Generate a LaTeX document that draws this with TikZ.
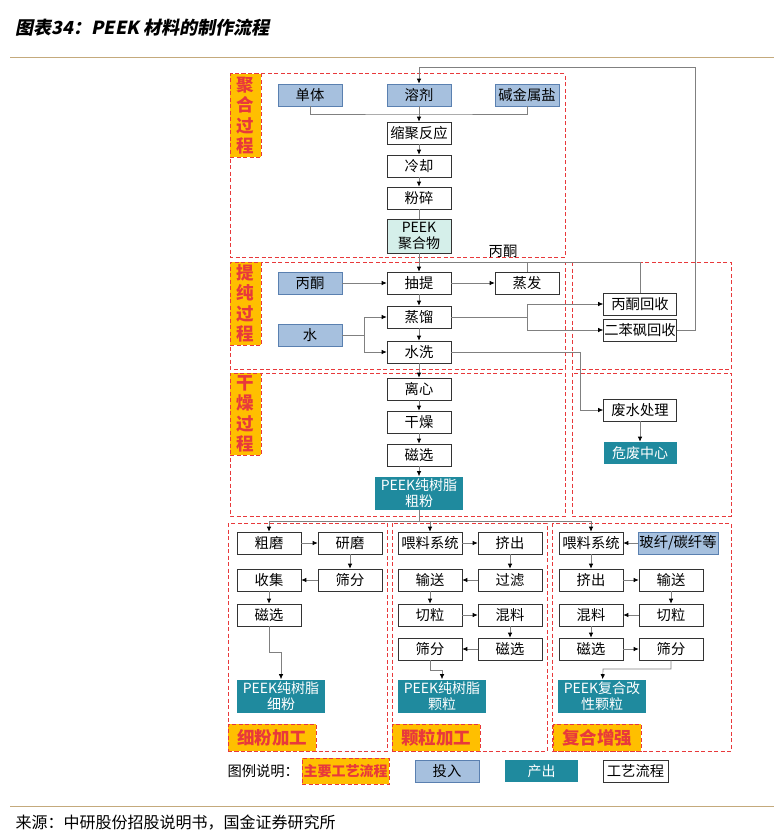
\documentclass[tikz,border=0pt]{standalone}
\usepackage{fontspec}
\setmainfont{Noto Sans CJK SC}
\usepackage{tikz}
\usetikzlibrary{positioning}
\usetikzlibrary{arrows.meta}
\usetikzlibrary{calc}
\definecolor{inblue}{HTML}{A6C0DE}
\definecolor{inline}{HTML}{5A80B0}
\definecolor{outteal}{HTML}{1F8A9E}
\definecolor{polymint}{HTML}{D5EFEA}
\definecolor{tagorange}{HTML}{FFBF00}
\definecolor{tagred}{HTML}{E8393B}
\definecolor{linegray}{HTML}{808080}
\definecolor{rulecol}{HTML}{C4AA7C}
\newcommand{\boxfont}{\fontsize{14.3}{16}\selectfont}
\newcommand{\tagfont}{\fontsize{17.5}{20.5}\selectfont\bfseries}

\begin{document}
\begin{tikzpicture}[x=1pt,y=-1pt]
\tikzset{proc/.style={rectangle,minimum width=64pt,minimum height=22pt,inner sep=0pt,draw=black!80,line width=0.6pt,fill=white,font=\boxfont}}
\tikzset{inbox/.style={proc,draw=inline,fill=inblue}}
\tikzset{outbox/.style={proc,draw=none,fill=outteal,text=white,align=center,font=\fontsize{14}{16.5}\selectfont}}
\tikzset{polybox/.style={proc,fill=polymint,align=center,minimum height=34pt,font=\fontsize{14}{16.5}\selectfont}}
\tikzset{stage/.style={draw=tagred,line width=1pt,dash pattern=on 4pt off 2.5pt}}
\tikzset{tag/.style={stage,fill=tagorange,text=tagred,inner sep=0pt,align=center,font=\tagfont}}
\tikzset{line/.style={draw=linegray,line width=0.7pt}}
\tikzset{arr/.style={line,-{Latex[length=5pt,width=4.5pt,color=black]}}}
\useasboundingbox (0,0) rectangle (774,840);

\node[anchor=west,font=\fontsize{18}{21}\selectfont\bfseries] (title) at (12,28) {\addfontfeature{FakeSlant=0.2}图表34：PEEK 材料的制作流程};
\draw[rulecol,line width=0.8pt] (10,57) -- (774,57);
\draw[rulecol,line width=0.8pt] (10,806) -- (774,806);
\node[anchor=west,font=\fontsize{16}{18}\selectfont] (src) at (12,823) {来源：中研股份招股说明书，国金证券研究所};

\draw[stage] (230,74) rectangle (565,257);
\draw[stage] (230,262) rectangle (565,369);
\draw[stage] (572,262) rectangle (731,369);
\draw[stage] (230,373) rectangle (565,516);
\draw[stage] (572,373) rectangle (731,516);
\draw[stage] (228,523) rectangle (387,751);
\draw[stage] (392,523) rectangle (547,751);
\draw[stage] (552,523) rectangle (731,751);

\node[tag,minimum width=31pt,minimum height=83pt] (tagjh) at (245.5,115.5) {聚\\合\\过\\程};
\node[tag,minimum width=31pt,minimum height=83pt] (tagtc) at (245.5,303.5) {提\\纯\\过\\程};
\node[tag,minimum width=31pt,minimum height=82pt] (taggz) at (245.5,414) {干\\燥\\过\\程};
\node[tag,minimum width=88pt,minimum height=27pt] (tagxf) at (272,737.5) {细粉加工};
\node[tag,minimum width=88pt,minimum height=27pt] (tagkl) at (436,737.5) {颗粒加工};
\node[tag,minimum width=88pt,minimum height=27pt] (tagfh) at (597,737.5) {复合增强};

\node[inbox] (monomer) at (310,95) {单体};
\node[inbox] (solvent) at (419,95) {溶剂};
\node[inbox] (alkali) at (527,95) {碱金属盐};
\node[proc] (poly) at (419,133) {缩聚反应};
\node[proc] (cool) at (419,166) {冷却};
\node[proc] (crush) at (419,198) {粉碎};
\node[polybox] (peek) at (419,236) {PEEK\\聚合物};

\node[inbox] (acetone) at (310,283) {丙酮};
\node[proc] (extract) at (419,283) {抽提};
\node[proc] (evap) at (527,283) {蒸发};
\node[proc] (distil) at (419,317) {蒸馏};
\node[inbox] (water) at (310,335) {水};
\node[proc] (wash) at (419,352) {水洗};
\node[proc,minimum width=73pt] (acrec) at (640,304) {丙酮回收};
\node[proc,minimum width=73pt] (dpsrec) at (640,330) {二苯砜回收};
\node[proc] (centri) at (419,389) {离心};
\node[proc] (dry) at (419,422) {干燥};
\node[proc] (magsep) at (419,455) {磁选};
\node[outbox,minimum width=88pt,minimum height=33pt] (coarse) at (419,493) {PEEK纯树脂\\粗粉};
\node[proc,minimum width=73pt] (wwt) at (640,410) {废水处理};
\node[outbox,minimum width=73pt] (hazard) at (640,453) {危废中心};
\node[font=\boxfont] (aclabel) at (503,251) {丙酮};

\node[proc] (fgrind) at (269,543) {粗磨};
\node[proc] (fmill) at (350,543) {研磨};
\node[proc] (fsieve) at (350,580) {筛分};
\node[proc] (fcollect) at (269,580) {收集};
\node[proc] (fmag) at (269,615) {磁选};
\node[outbox,minimum width=88pt,minimum height=33pt] (fine) at (281,696) {PEEK纯树脂\\细粉};

\node[proc] (gfeed) at (430,543) {喂料系统};
\node[proc] (gext) at (510,543) {挤出};
\node[proc] (gfilter) at (510,580) {过滤};
\node[proc] (gconv) at (430,580) {输送};
\node[proc] (gcut) at (430,615) {切粒};
\node[proc] (gmix) at (510,615) {混料};
\node[proc] (gmag) at (510,649) {磁选};
\node[proc] (gsieve) at (430,649) {筛分};
\node[outbox,minimum width=88pt,minimum height=33pt] (granule) at (442,696) {PEEK纯树脂\\颗粒};

\node[inbox,minimum width=80pt] (fiber) at (678,543) {玻纤/碳纤等};
\node[proc] (cfeed) at (591,543) {喂料系统};
\node[proc] (cext) at (591,580) {挤出};
\node[proc] (cconv) at (671,580) {输送};
\node[proc] (ccut) at (671,615) {切粒};
\node[proc] (cmix) at (591,615) {混料};
\node[proc] (cmag) at (591,649) {磁选};
\node[proc] (csieve) at (671,649) {筛分};
\node[outbox,minimum width=88pt,minimum height=33pt] (compo) at (602,696) {PEEK复合改\\性颗粒};

\node[anchor=west,font=\boxfont] (legend) at (224,771) {图例说明：};
\node[tag,minimum width=87pt,minimum height=26pt,font=\fontsize{14}{16}\selectfont\bfseries] (lgmain) at (345.5,771) {主要工艺流程};
\node[inbox] (lgin) at (447,771) {投入};
\node[outbox,minimum width=73pt] (lgout) at (541.5,771) {产出};
\node[proc,minimum width=65pt] (lgproc) at (635.5,771) {工艺流程};

\coordinate (mixin) at (419,114);
\coordinate (loopr) at (695,67);
\coordinate (acback) at (419,262);
\coordinate (wsplit) at (364,335);
\coordinate (dsplit) at (527,317);
\coordinate (wout) at (580,352);
\coordinate (csplit) at (419,521);
\coordinate (fjoin) at (281,652);
\coordinate (gjoin) at (442,670);
\coordinate (cjoin) at (603,669);

\draw[line] (monomer.south) |- (mixin) -| (alkali.south);
\draw[arr] (solvent) -- (poly);
\draw[arr] (poly) -- (cool);
\draw[arr] (cool) -- (crush);
\draw[line] (crush) -- (peek);
\draw[arr] (dpsrec.east) -| (loopr) -| (solvent.north);
\draw[arr] (peek) -- (extract);
\draw[line] (acrec.north) |- (acback);
\draw[line] (evap.north) -- (evap.north|-acback);
\draw[arr] (acetone) -- (extract);
\draw[arr] (extract) -- (evap);
\draw[arr] (extract) -- (distil);
\draw[arr] (distil) -- (wash);
\draw[line] (water) -- (wsplit);
\draw[arr] (wsplit) |- (distil);
\draw[arr] (wsplit) |- (wash);
\draw[line] (distil) -- (dsplit);
\draw[arr] (dsplit) |- (acrec);
\draw[arr] (dsplit) |- (dpsrec);
\draw[arr] (wash) -- (wout) |- (wwt);
\draw[arr] (wwt) -- (hazard);
\draw[arr] (wash) -- (centri);
\draw[arr] (centri) -- (dry);
\draw[arr] (dry) -- (magsep);
\draw[arr] (magsep) -- (coarse);
\draw[line] (coarse) -- (csplit);
\draw[arr] (csplit) -| (fgrind);
\draw[arr] (csplit) -| (gfeed);
\draw[arr] (csplit) -| (cfeed);

\draw[arr] (fgrind) -- (fmill);
\draw[arr] (fmill) -- (fsieve);
\draw[arr] (fsieve) -- (fcollect);
\draw[arr] (fcollect) -- (fmag);
\draw[arr] (fmag.south) |- (fjoin) -- (fine);

\draw[arr] (gfeed) -- (gext);
\draw[arr] (gext) -- (gfilter);
\draw[arr] (gfilter) -- (gconv);
\draw[arr] (gconv) -- (gcut);
\draw[arr] (gcut) -- (gmix);
\draw[arr] (gmix) -- (gmag);
\draw[arr] (gmag) -- (gsieve);
\draw[arr] (gsieve.south) |- (gjoin) -- (granule);

\draw[arr] (fiber) -- (cfeed);
\draw[arr] (cfeed) -- (cext);
\draw[arr] (cext) -- (cconv);
\draw[arr] (cconv) -- (ccut);
\draw[arr] (ccut) -- (cmix);
\draw[arr] (cmix) -- (cmag);
\draw[arr] (cmag) -- (csieve);
\draw[arr] (csieve.south) |- (cjoin) -- (compo);
\end{tikzpicture}
\end{document}
